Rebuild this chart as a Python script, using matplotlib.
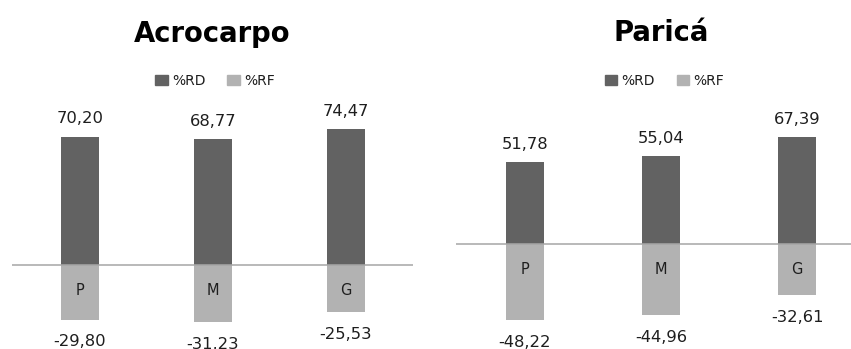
import matplotlib
matplotlib.use('Agg')
import matplotlib.pyplot as plt
from matplotlib.patches import Patch

# seedling size classes
CLASSES = ["P", "M", "G"]

ACROCARPO_RD = [70.20, 68.77, 74.47]
ACROCARPO_RF = [-29.80, -31.23, -25.53]

PARICA_RD = [51.78, 55.04, 67.39]
PARICA_RF = [-48.22, -44.96, -32.61]

DARK = "#626262"
LIGHT = "#b2b2b2"
AXIS_GREY = "#a6a6a6"
TEXT = "#1e1e1e"

W, H = 851, 349
DPI = 100


def fmt(v):
    return f"{v:.2f}".replace(".", ",")


def px_rect(x0, x1, y_top, y_bot):
    """Axes rect from pixel edges (y measured from the top)."""
    return [x0 / W, 1 - y_bot / H, (x1 - x0) / W, (y_bot - y_top) / H]


def draw_panel(fig, rect, xlim, ylim, width, title, title_xy, legend_xy, rd, rf):
    ax = fig.add_axes(rect)
    x = list(range(len(CLASSES)))
    ax.bar(x, rd, width=width, color=DARK, label="%RD", zorder=2)
    ax.bar(x, rf, width=width, color=LIGHT, label="%RF", zorder=2)
    ax.axhline(0, color=AXIS_GREY, linewidth=1.1, zorder=3)
    ax.set_xlim(*xlim)
    ax.set_ylim(*ylim)
    ax.axis('off')

    for xi, v in zip(x, rd):
        ax.annotate(fmt(v), (xi, v), xytext=(0, 9.4), textcoords='offset points',
                    ha='center', va='baseline', fontsize=11.8, color=TEXT,
                    annotation_clip=False)
    for xi, v in zip(x, rf):
        ax.annotate(fmt(v), (xi, v), xytext=(0, -19.4), textcoords='offset points',
                    ha='center', va='baseline', fontsize=11.8, color=TEXT,
                    annotation_clip=False)
    # class names sit just under the zero line, inside the %RF bars
    for xi, name in zip(x, CLASSES):
        ax.annotate(name, (xi, 0), xytext=(0, -21.6), textcoords='offset points',
                    ha='center', va='baseline', fontsize=10.5, color=TEXT,
                    zorder=4)

    fig.text(title_xy[0] / W, 1 - title_xy[1] / H, title, ha='center',
             va='baseline', fontsize=19.8, fontweight='bold', color='black')

    handles = [Patch(color=DARK, label="%RD"), Patch(color=LIGHT, label="%RF")]
    fig.legend(handles=handles, ncol=2, loc='center',
               bbox_to_anchor=(legend_xy[0] / W, 1 - legend_xy[1] / H),
               frameon=False, fontsize=10, handlelength=0.9, handleheight=0.72,
               handletextpad=0.3, columnspacing=1.6, labelcolor=TEXT,
               borderpad=0, borderaxespad=0)
    return ax


fig = plt.figure(figsize=(W / DPI, H / DPI), dpi=DPI)
fig.patch.set_facecolor('white')

# left panel: zero line at y=265 px, 1.83 px per unit
draw_panel(fig, px_rect(12, 413, 100, 349),
           xlim=(-0.511, 2.504), ylim=(-(349 - 265) / 1.83, (265 - 100) / 1.83),
           width=0.288, title="Acrocarpo", title_xy=(212.5, 41.5),
           legend_xy=(215, 81), rd=ACROCARPO_RD, rf=ACROCARPO_RF)

# right panel: zero line at y=243.7 px, 1.585 px per unit
draw_panel(fig, px_rect(456, 851, 100, 349),
           xlim=(-0.507, 2.397), ylim=(-(349 - 243.7) / 1.585, (243.7 - 100) / 1.585),
           width=0.28, title="Paricá", title_xy=(661, 40.7),
           legend_xy=(664.5, 81), rd=PARICA_RD, rf=PARICA_RF)

fig.savefig("out.png", dpi=DPI, facecolor=fig.get_facecolor())
plt.close(fig)
